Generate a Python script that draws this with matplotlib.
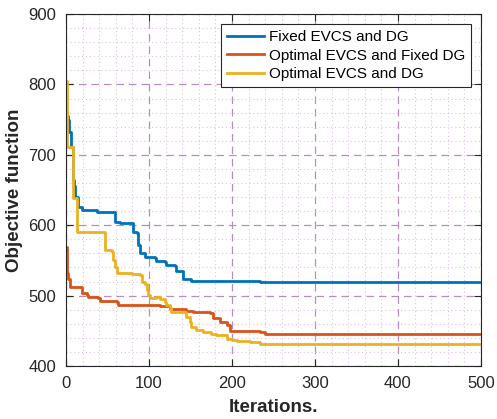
import matplotlib.pyplot as plt
from matplotlib.ticker import MultipleLocator

plt.rcParams['font.family'] = ['Liberation Sans', 'DejaVu Sans']

# step breakpoints (iteration, objective value)
fixed_x = [0, 3, 4, 6, 8, 10, 11, 15, 19, 35, 37, 57, 59, 65, 79, 81, 85, 87, 89, 95,
           107, 109, 119, 121, 131, 133, 139, 141, 147, 151, 182, 234, 366, 500]
fixed_y = [755, 749, 733, 711, 664, 655, 640, 626, 622, 622, 619, 619, 605, 603, 603, 591, 589, 572, 560, 555,
           553, 549, 548, 543, 542, 535, 535, 524, 523, 521, 521, 520, 519, 519]

optfix_x = [0, 1, 2, 3, 5, 17, 19, 25, 27, 39, 41, 61, 63, 113, 125, 145, 153, 173, 177,
            186, 194, 198, 234, 240, 500]
optfix_y = [569, 532, 525, 524, 512, 512, 503, 501, 498, 496, 493, 491, 487, 485, 481, 478, 477, 475, 468,
            463, 458, 450, 449, 445, 445]

opt_x = [0, 1, 6, 8, 13, 45, 47, 55, 57, 59, 61, 79, 89, 91, 95, 97, 99, 101, 109, 113, 119, 121,
         125, 127, 141, 145, 149, 151, 157, 165, 175, 181, 194, 200, 206, 222, 234, 500]
opt_y = [805, 711, 711, 638, 591, 591, 565, 562, 551, 540, 532, 530, 529, 520, 517, 508, 501, 497, 498, 495, 491, 487,
         482, 477, 476, 470, 463, 456, 451, 449, 445, 444, 439, 437, 436, 434, 431, 431]

labels = ['Fixed EVCS and DG', 'Optimal EVCS and Fixed DG', 'Optimal EVCS and DG']
colors = ['#0072BD', '#D95319', '#EDB120']

fig = plt.figure(figsize=(4.97, 4.19), dpi=100)
ax = fig.add_axes([0.1328, 0.1265, 0.835, 0.84])

for xs, ys, lab, c in zip([fixed_x, optfix_x, opt_x], [fixed_y, optfix_y, opt_y], labels, colors):
    ax.plot(xs, ys, drawstyle='steps-post', color=c, lw=2.0, label=lab)

ax.set_xlim(0, 500)
ax.set_ylim(400, 900)
ax.xaxis.set_major_locator(MultipleLocator(100))
ax.yaxis.set_major_locator(MultipleLocator(100))
ax.xaxis.set_minor_locator(MultipleLocator(20))
ax.yaxis.set_minor_locator(MultipleLocator(20))

ax.grid(which='major', color='#b98bc4', linestyle=(0, (6, 4)), lw=0.9)
ax.grid(which='minor', color='#dcc3e2', linestyle=(0, (1, 2.5)), lw=0.8)
ax.set_axisbelow(True)

ax.tick_params(which='major', direction='in', length=5, top=True, right=True,
               labelsize=12, colors='#262626', pad=7)
ax.tick_params(which='minor', length=0)
for s in ax.spines.values():
    s.set_color('#262626')
    s.set_linewidth(0.8)

ax.set_xlabel('Iterations.', fontsize=13.5, fontweight='bold', color='#262626', labelpad=6)
ax.set_ylabel('Objective function', fontsize=13.5, fontweight='bold', color='#262626', labelpad=4)

leg = ax.legend(loc='upper right', bbox_to_anchor=(0.976, 0.972), fontsize=11, fancybox=False,
                framealpha=1, edgecolor='#262626', handlelength=2.4, handletextpad=0.3,
                borderpad=0.4, labelspacing=0.3, borderaxespad=0)
leg.get_frame().set_linewidth(0.8)

fig.savefig('out.png', dpi=100)
